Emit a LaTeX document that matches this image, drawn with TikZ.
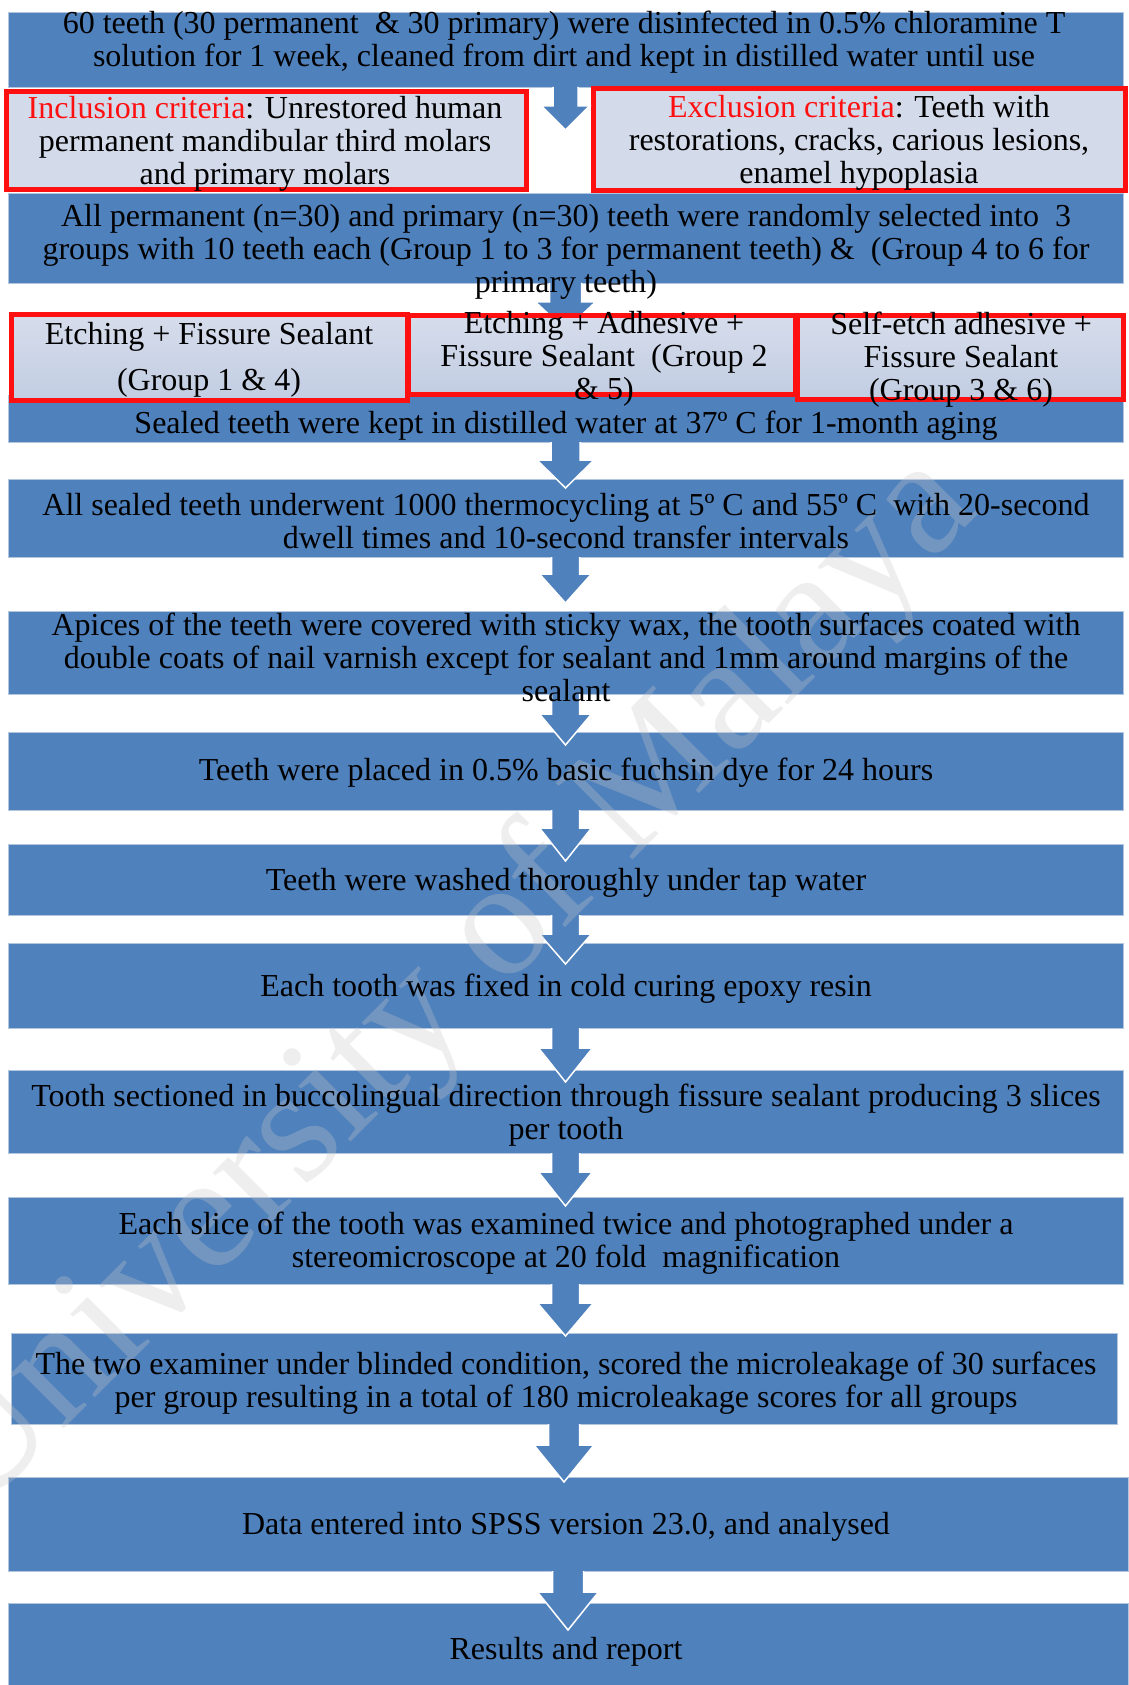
\documentclass[tikz,border=0pt]{standalone}
\usepackage{fontspec}
\setmainfont{Liberation Serif}
\definecolor{boxblue}{HTML}{4F81BD}
\definecolor{lav}{HTML}{D3DAEA}
\definecolor{lavtop}{HTML}{D6DDEC}
\definecolor{lavbot}{HTML}{C2CDE2}
\definecolor{critred}{HTML}{FF1010}
\definecolor{edgeblue}{HTML}{B3C6E0}
\definecolor{wmgray}{HTML}{C8C8C8}
\newcommand\boxat[6]{\node[#6, minimum width={#4-#2}, minimum height={#5-#3}] (#1) at ({(#2+#4)/2},{(#3+#5)/2}) {};}
\newcommand\flowarrow[5]{%
  \fill[boxblue] (#1.south) ++(-#4,-2) -- ++(0,#2+2) -- ++(#4-#5,0) -- ++(#5,#3) -- ++(#5,-#3) -- ++(#4-#5,0) -- ++(0,-#2-2) -- cycle;
  \draw[arredge] (#1.south) ++(-#4,0) -- ++(0,#2) -- ++(#4-#5,0) -- ++(#5,#3) -- ++(#5,-#3) -- ++(#4-#5,0) -- ++(0,-#2);}
\begin{document}
\begin{tikzpicture}[x=1pt,y=-1pt,
  bluebox/.style={fill=boxblue, draw=edgeblue, line width=0.8pt, inner sep=0pt, outer sep=0pt},
  critbox/.style={fill=lav, draw=critred, line width=5pt, inner sep=0pt, outer sep=0pt},
  grpbox/.style={top color=lavtop, bottom color=lavbot, draw=critred, line width=5pt, inner sep=0pt, outer sep=0pt},
  txt/.style={font=\fontsize{32}{33}\selectfont, align=center, inner sep=0pt, text=black, yshift=-4pt},
  arredge/.style={draw=white, line width=1.5pt, line join=miter},
]
\useasboundingbox (0,0) rectangle (1128,1685);
% main boxes
\boxat{b1}{8}{12}{1123}{87}{bluebox}
\boxat{inc}{6.5}{91.5}{526.5}{189.5}{critbox}
\boxat{exc}{593.5}{88.5}{1125.5}{190.5}{critbox}
\boxat{b3}{8}{193}{1123}{283}{bluebox}
\boxat{b4}{8}{395}{1123}{442}{bluebox}
\boxat{b5}{8}{479}{1123}{557}{bluebox}
\boxat{b6}{8}{611}{1123}{694}{bluebox}
\boxat{b7}{8}{732}{1123}{810}{bluebox}
\boxat{b8}{8}{844}{1123}{915}{bluebox}
\boxat{b9}{8}{943}{1123}{1028}{bluebox}
\boxat{b10}{8}{1070}{1123}{1153}{bluebox}
\boxat{b11}{8}{1197}{1123}{1284}{bluebox}
\boxat{b12}{11}{1333}{1117}{1424}{bluebox}
\boxat{b13}{8}{1477}{1128}{1571}{bluebox}
\boxat{b14}{8}{1603}{1128}{1690}{bluebox}
% arrows
\flowarrow{b1}{19}{24}{12.5}{24}
\flowarrow{b3}{19}{28}{16}{30}
\flowarrow{b4}{18}{28}{14.5}{28.5}
\flowarrow{b5}{17}{29}{14}{26}
\flowarrow{b6}{20}{31}{14}{26}
\flowarrow{b7}{18}{33}{14}{26}
\flowarrow{b8}{19}{30}{14}{26}
\flowarrow{b9}{20}{34}{14}{27}
\flowarrow{b10}{19}{34}{14}{27}
\flowarrow{b11}{19}{33}{14}{28}
\flowarrow{b12}{21}{37}{15.5}{30}
\flowarrow{b13}{21}{38}{15.5}{30.5}
% group boxes
\boxat{g1}{11.5}{314.5}{407.5}{400.5}{grpbox}
\boxat{g2}{408.5}{315.5}{795.5}{394.5}{grpbox}
\boxat{g3}{797.5}{315.5}{1123.5}{399.5}{grpbox}
% watermark
\node[font=\fontsize{166}{166}\selectfont, text=wmgray, opacity=0.3, rotate=45, anchor=base west, inner sep=0pt] (wm) at (-23,1516) {University of Malaya};
% texts
\node[txt] (t1) at (564,38) {60 teeth (30 permanent\ \ \& 30 primary) were disinfected in 0.5\% chloramine T\\solution for 1 week, cleaned from dirt and kept in distilled water until use};
\node[txt] (tinc) at (265,140) {\textcolor{critred}{Inclusion criteria}: Unrestored human\\permanent mandibular third molars\\and primary molars};
\node[txt] (texc) at (859,139) {\textcolor{critred}{Exclusion criteria}: Teeth with\\restorations, cracks, carious lesions,\\enamel hypoplasia};
\node[txt] (t3) at (566,248) {All permanent (n=30) and primary (n=30) teeth were randomly selected into\ \ 3\\groups with 10 teeth each (Group 1 to 3 for permanent teeth) \&\ \ (Group 4 to 6 for\\primary teeth)};
\node[txt, font=\fontsize{32}{46}\selectfont] (tg1) at (209,356) {Etching + Fissure Sealant\\(Group 1 \& 4)};
\node[txt] (tg2) at (604,355) {Etching + Adhesive +\\Fissure Sealant\ \ (Group 2\\\& 5)};
\node[txt] (tg3) at (961,356) {Self-etch adhesive +\\Fissure Sealant\\(Group 3 \& 6)};
\node[txt] (t4) at (566,422) {Sealed teeth were kept in distilled water at 37º C for 1-month aging};
\node[txt] (t5) at (566,517) {All sealed teeth underwent 1000 thermocycling at 5º C and 55º C\ \ with 20-second\\dwell times and 10-second transfer intervals};
\node[txt] (t6) at (566,653) {Apices of the teeth were covered with sticky wax, the tooth surfaces coated with\\double coats of nail varnish except for sealant and 1mm around margins of the\\sealant};
\node[txt] (t7) at (566,769) {Teeth were placed in 0.5\% basic fuchsin dye for 24 hours};
\node[txt] (t8) at (566,879) {Teeth were washed thoroughly under tap water};
\node[txt] (t9) at (566,985) {Each tooth was fixed in cold curing epoxy resin};
\node[txt] (t10) at (566,1111) {Tooth sectioned in buccolingual direction through fissure sealant producing 3 slices\\per tooth};
\node[txt] (t11) at (566,1239) {Each slice of the tooth was examined twice and photographed under a\\stereomicroscope at 20 fold\ \ magnification};
\node[txt] (t12) at (566,1379) {The two examiner under blinded condition, scored the microleakage of 30 surfaces\\per group resulting in a total of 180 microleakage scores for all groups};
\node[txt] (t13) at (566,1523) {Data entered into SPSS version 23.0, and analysed};
\node[txt] (t14) at (566,1648) {Results and report};
\end{tikzpicture}
\end{document}
